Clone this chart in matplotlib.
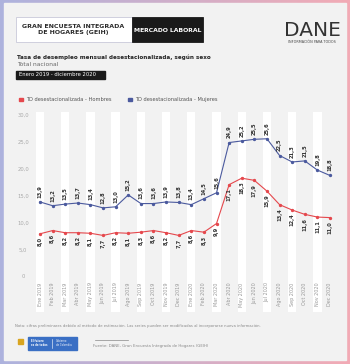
import numpy as np
import matplotlib.pyplot as plt
from matplotlib.patches import Rectangle

meses = ['Ene 2019', 'Feb 2019', 'Mar 2019', 'Abr 2019', 'May 2019', 'Jun 2019',
         'Jul 2019', 'Ago 2019', 'Sep 2019', 'Oct 2019', 'Nov 2019', 'Dec 2019',
         'Ene 2020', 'Feb 2020', 'Mar 2020', 'Abr 2020', 'May 2020', 'Jun 2020',
         'Jul 2020', 'Ago 2020', 'Sep 2020', 'Oct 2020', 'Nov 2020', 'Dec 2020']
hombres = [8.0, 8.6, 8.2, 8.2, 8.1, 7.7, 8.2, 8.1, 8.3, 8.6, 8.2, 7.7,
           8.6, 8.3, 9.9, 17.1, 18.3, 17.9, 15.9, 13.4, 12.4, 11.6, 11.1, 11.0]
mujeres = [13.9, 13.2, 13.5, 13.7, 13.4, 12.8, 13.0, 15.2, 13.6, 13.6, 13.9, 13.8,
           13.4, 14.5, 15.6, 24.9, 25.2, 25.5, 25.6, 22.5, 21.3, 21.5, 19.8, 18.8]
yticks = [0, 5, 10, 15, 20, 25, 30]

ROJO = '#e5484d'
AZUL = '#4b5a9e'
W, H = 350, 364

fig = plt.figure(figsize=(W / 100, H / 100), dpi=100)

# fondo / marco con degradado
bg = fig.add_axes([0, 0, 1, 1])
bg.set_xlim(0, W)
bg.set_ylim(H, 0)
bg.axis('off')
grad = np.linspace(0, 1, 256)[None, :, None]
c1 = np.array([0.68, 0.70, 0.87])
c2 = np.array([0.95, 0.67, 0.71])
img = c1 * (1 - grad) + c2 * grad
bg.imshow(img, extent=[0, W, H, 0], aspect='auto')
bg.add_patch(Rectangle((4, 3), W - 8, H - 7, color='#f2f2f2', zorder=1))

# encabezado
bg.add_patch(Rectangle((16, 17), 116, 25, facecolor='white', edgecolor='#c9c9d9', lw=0.6, zorder=2))
bg.add_patch(Rectangle((132, 17), 71, 25, facecolor='#1a1a1a', edgecolor='#1a1a1a', lw=0.6, zorder=2))
bg.text(73, 29.5, 'GRAN ENCUESTA INTEGRADA\nDE HOGARES (GEIH)', ha='center', va='center',
        fontsize=4.5, fontweight='bold', color='#2a2a2a', linespacing=1.15, zorder=3)
bg.text(167.5, 30, 'MERCADO LABORAL', ha='center', va='center', fontsize=4.4,
        fontweight='bold', color='white', zorder=3)
bg.text(312, 31, 'DANE', ha='center', va='center', fontsize=14.5, fontweight='medium',
        color='#333333', zorder=3)
bg.text(312, 42, 'INFORMACIÓN PARA TODOS', ha='center', va='center', fontsize=2.4,
        color='#444444', zorder=3)

bg.text(17, 57, 'Tasa de desempleo mensual desestacionalizada, según sexo', ha='left',
        va='center', fontsize=4.1, fontweight='bold', color='#222222', zorder=3)
bg.text(17, 65, 'Total nacional', ha='left', va='center', fontsize=4.3, color='#666666', zorder=3)
bg.add_patch(Rectangle((16, 70.5), 89, 8.5, color='#1a1a1a', zorder=2))
bg.text(19, 75, 'Enero 2019 - diciembre 2020', ha='left', va='center', fontsize=3.8,
        color='white', zorder=3)

# leyenda
bg.add_patch(Rectangle((19, 97.5), 3.5, 3.5, color=ROJO, zorder=3))
bg.text(26, 99.3, 'TD desestacionalizada - Hombres', ha='left', va='center', fontsize=3.7,
        color='#555555', zorder=3)
bg.add_patch(Rectangle((128, 97.5), 3.5, 3.5, color=AZUL, zorder=3))
bg.text(135, 99.3, 'TD desestacionalizada - Mujeres', ha='left', va='center', fontsize=3.7,
        color='#555555', zorder=3)

# nota y fuente
bg.text(15, 326, 'Nota: cifras preliminares debido al método de estimación. Las series pueden ser '
        'modificadas al incorporarse nueva información.', ha='left', va='center', fontsize=2.7,
        color='#888888', zorder=3)
bg.add_patch(Rectangle((28, 337), 49, 13, color='#3a6fc4', zorder=2))
bg.plot([52, 52], [339, 348], color='white', lw=0.4, zorder=3)
bg.text(31, 343.5, 'El futuro\nes de todos', ha='left', va='center', fontsize=1.8,
        color='white', fontweight='bold', linespacing=1.0, zorder=3)
bg.text(56, 343.5, 'Gobierno\nde Colombia', ha='left', va='center', fontsize=1.8,
        color='white', linespacing=1.0, zorder=3)
bg.add_patch(Rectangle((18, 339), 4.5, 5, color='#d9a520', zorder=2))
bg.plot([95, 128], [340, 340], color='#888888', lw=0.5, zorder=3)
bg.text(93, 346.5, 'Fuente: DANE, Gran Encuesta Integrada de Hogares (GEIH)', ha='left',
        va='center', fontsize=2.8, color='#888888', zorder=3)

# gráfico
x = np.arange(len(meses))
ymin, ymax = -6.5, 30.5
ax = fig.add_axes([33.7 / W, 1 - 312.1 / H, 302.6 / W, 199.8 / H])
ax.patch.set_alpha(0)
ax.set_xlim(-0.5, len(meses) - 0.5)
ax.set_ylim(ymin, ymax)
for s in ax.spines.values():
    s.set_visible(False)
ax.set_xticks([])
ax.set_yticks([])

for i in x:
    if i % 2 == 0:
        ax.bar(i, ymax - ymin, bottom=ymin, width=0.66, color='white', zorder=0)
    ax.text(i, -1.0, meses[i], rotation=90, ha='center', va='top', fontsize=3.5,
            color='#999999')

for v in yticks:
    lab = '0' if v == 0 else f'{v:.1f}'.replace('.', ',')
    ax.text(-0.035, v, lab, transform=ax.get_yaxis_transform(), ha='center', va='center',
            fontsize=3.8, color='#aaaaaa')

ax.plot(x, mujeres, color=AZUL, lw=0.8, marker='o', ms=1.4, zorder=3)
ax.plot(x, hombres, color=ROJO, lw=0.8, marker='o', ms=1.4, zorder=3)

for i in x:
    ax.annotate(f'{mujeres[i]:.1f}'.replace('.', ','), (i, mujeres[i]), xytext=(0, 3),
                textcoords='offset points', rotation=90, ha='center', va='bottom',
                fontsize=3.7, fontweight='bold', color='#333333')
    ax.annotate(f'{hombres[i]:.1f}'.replace('.', ','), (i, hombres[i]), xytext=(0, -2.5),
                textcoords='offset points', rotation=90, ha='center', va='top',
                fontsize=3.7, fontweight='bold', color='#333333')

fig.savefig('out.png', dpi=100)
